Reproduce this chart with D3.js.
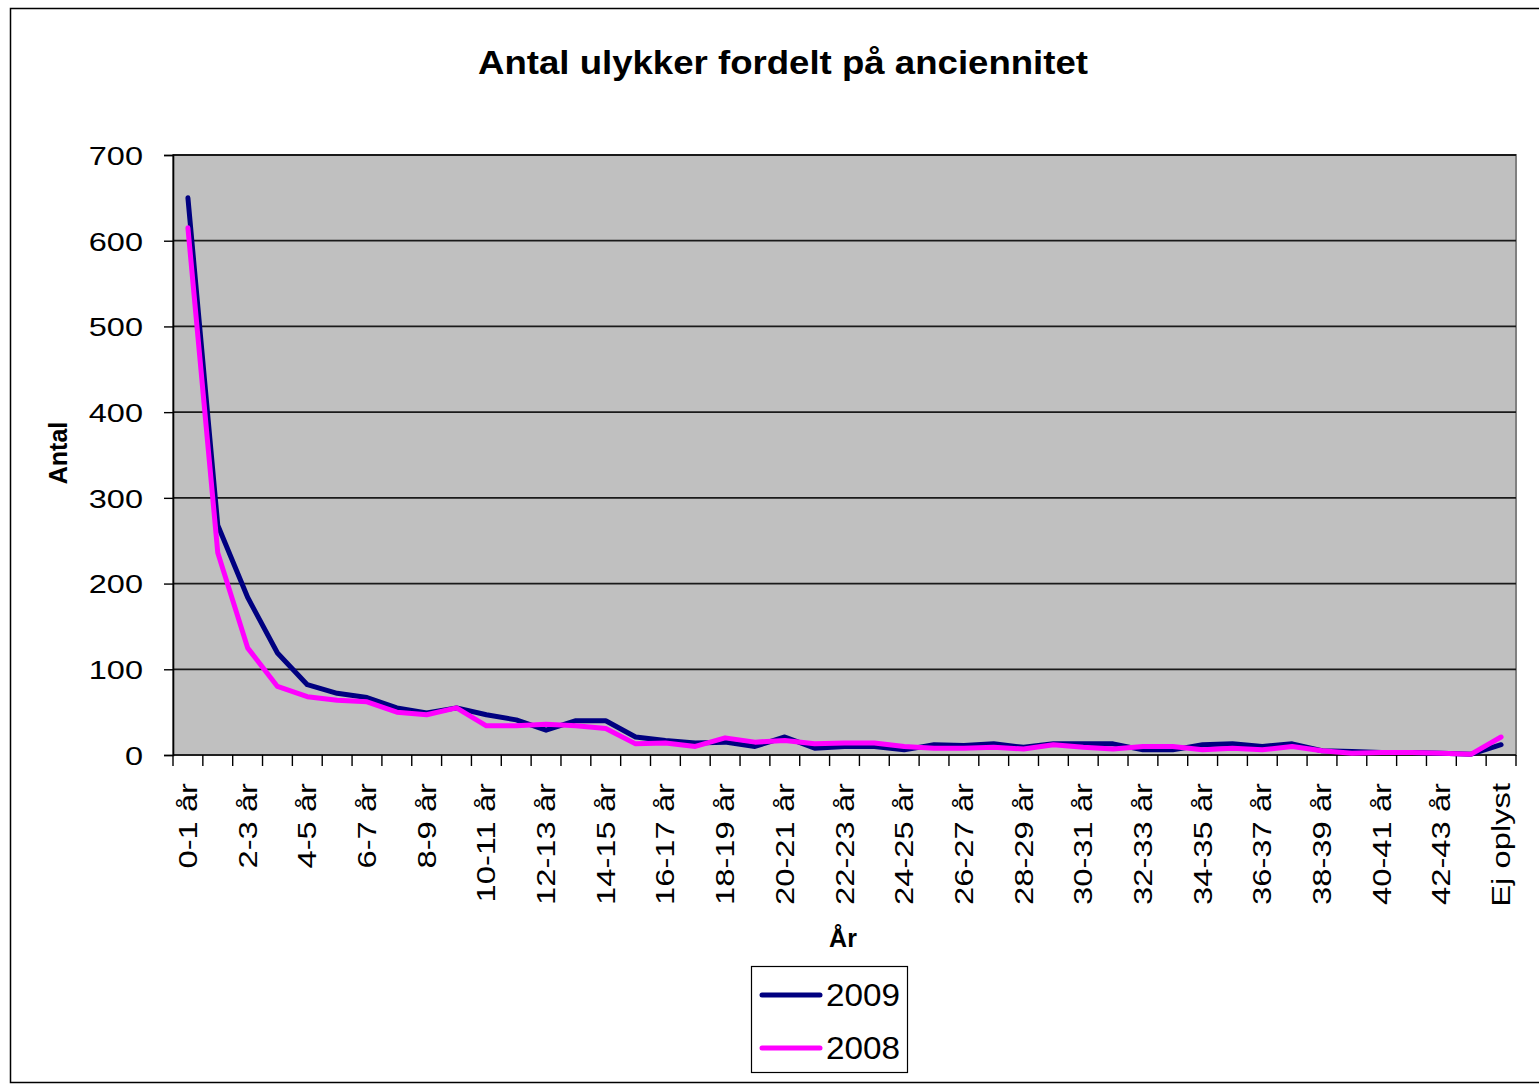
<!DOCTYPE html>
<html>
<head>
<meta charset="utf-8">
<script src="https://cdn.jsdelivr.net/npm/d3@7"></script>
<style>
  body { margin: 0; background: #fff; }
  text { font-family: "Liberation Sans", Arial, sans-serif; }
</style>
</head>
<body>
<script>
var width = 1539;
var height = 1085;

var categories = ["0-1 år", "1-2 år", "2-3 år", "3-4 år", "4-5 år", "5-6 år", "6-7 år", "7-8 år",
  "8-9 år", "9-10 år", "10-11 år", "11-12 år", "12-13 år", "13-14 år", "14-15 år", "15-16 år",
  "16-17 år", "17-18 år", "18-19 år", "19-20 år", "20-21 år", "21-22 år", "22-23 år", "23-24 år",
  "24-25 år", "25-26 år", "26-27 år", "27-28 år", "28-29 år", "29-30 år", "30-31 år", "31-32 år",
  "32-33 år", "33-34 år", "34-35 år", "35-36 år", "36-37 år", "37-38 år", "38-39 år", "39-40 år",
  "40-41 år", "41-42 år", "42-43 år", "43-44 år", "Ej oplyst"];

var values2009 = [650, 268, 184, 119, 82, 72, 67, 55, 49, 55, 47, 41, 29, 40, 40, 21, 17, 14, 15, 10,
  21, 8, 10, 10, 6, 12, 11, 13, 9, 13, 13, 13, 6, 6, 12, 13, 10, 13, 5, 4, 3, 3, 2, 1, 12];
var values2008 = [615, 236, 125, 80, 68, 64, 62, 50, 47, 55, 34, 34, 36, 34, 31, 13, 14, 10, 20, 15,
  17, 13, 14, 14, 10, 8, 8, 9, 7, 12, 9, 7, 10, 10, 6, 8, 6, 10, 5, 2, 3, 3, 2, 1, 21];

var yTicks = [0, 100, 200, 300, 400, 500, 600, 700];

var series = [
  { name: "2009", values: values2009, color: "#000080" },
  { name: "2008", values: values2008, color: "#ff00ff" }
];

var plot = { left: 173, right: 1516, top: 155, bottom: 755 };

var svg = d3.select("body").append("svg")
  .attr("width", width)
  .attr("height", height);

// outer chart frame
svg.append("rect")
  .attr("x", 10.5).attr("y", 8.5)
  .attr("width", 1540).attr("height", 1074)
  .style("fill", "#fff")
  .style("stroke", "#000")
  .style("stroke-width", 1.5);

var x = d3.scaleBand()
  .domain(categories)
  .range([plot.left, plot.right]);

var y = d3.scaleLinear()
  .domain([0, 700])
  .range([plot.bottom, plot.top]);

// plot background
svg.append("rect")
  .attr("x", plot.left).attr("y", plot.top)
  .attr("width", plot.right - plot.left)
  .attr("height", plot.bottom - plot.top)
  .style("fill", "#c0c0c0")
  .style("stroke", "#808080")
  .style("stroke-width", 2);

// gridlines
svg.append("g")
  .selectAll("line")
  .data(yTicks.slice(1))
  .enter().append("line")
  .attr("x1", plot.left).attr("x2", plot.right)
  .attr("y1", function(d) { return y(d); })
  .attr("y2", function(d) { return y(d); })
  .style("stroke", "#1a1a1a")
  .style("stroke-width", 1.8);

// y axis
var yAxis = svg.append("g")
  .attr("transform", "translate(" + plot.left + ",0)")
  .call(d3.axisLeft(y).tickValues(yTicks).tickSize(9).tickPadding(15).tickFormat(d3.format("d")));
yAxis.select(".domain").style("stroke", "#000").style("stroke-width", 1.6);
yAxis.selectAll(".tick line").style("stroke", "#000").style("stroke-width", 1.4);
yAxis.selectAll(".tick text")
  .style("font-size", "26px")
  .style("fill", "#000")
  .attr("dy", "0.36em")
  .attr("transform", "scale(1.25,1)");

// x axis with ticks between categories
var xAxis = svg.append("g")
  .attr("transform", "translate(0," + plot.bottom + ")");
xAxis.append("line")
  .attr("x1", plot.left).attr("x2", plot.right)
  .style("stroke", "#000").style("stroke-width", 1.6);
xAxis.selectAll("line.tk")
  .data(categories.concat([null]))
  .enter().append("line")
  .attr("class", "tk")
  .attr("x1", function(d) { return d === null ? plot.right : x(d); })
  .attr("x2", function(d) { return d === null ? plot.right : x(d); })
  .attr("y1", 0).attr("y2", 11)
  .style("stroke", "#000").style("stroke-width", 1.4);

xAxis.selectAll("text")
  .data(categories.filter(function(d, i) { return i % 2 === 0; }))
  .enter().append("text")
  .attr("transform", function(d) {
    return "translate(" + (x(d) + x.bandwidth() / 2) + ",28) rotate(-90) scale(1.31,1)";
  })
  .attr("dy", "0.36em")
  .style("text-anchor", "end")
  .style("font-size", "25px")
  .style("fill", "#000")
  .text(function(d) { return d; });

// lines
var line = d3.line()
  .x(function(d, i) { return x(categories[i]) + x.bandwidth() / 2; })
  .y(function(d) { return y(d); });

svg.append("g")
  .selectAll("path")
  .data(series)
  .enter().append("path")
  .attr("d", function(d) { return line(d.values); })
  .style("fill", "none")
  .style("stroke", function(d) { return d.color; })
  .style("stroke-width", 5)
  .style("stroke-linejoin", "round")
  .style("stroke-linecap", "round");

// title
svg.append("text")
  .attr("x", 783).attr("y", 74)
  .style("text-anchor", "middle")
  .style("font-size", "33px")
  .style("font-weight", "bold")
  .attr("textLength", 610)
  .attr("lengthAdjust", "spacingAndGlyphs")
  .text("Antal ulykker fordelt på anciennitet");

svg.append("text")
  .attr("transform", "translate(67,453) rotate(-90)")
  .style("text-anchor", "middle")
  .style("font-size", "25px")
  .style("font-weight", "bold")
  .text("Antal");

svg.append("text")
  .attr("x", 843).attr("y", 947)
  .style("text-anchor", "middle")
  .style("font-size", "25px")
  .style("font-weight", "bold")
  .text("År");

// legend
var legend = svg.append("g");
legend.append("rect")
  .attr("x", 751.5).attr("y", 966.5)
  .attr("width", 156).attr("height", 106)
  .style("fill", "#fff")
  .style("stroke", "#000")
  .style("stroke-width", 1.2);

var items = legend.selectAll("g")
  .data(series)
  .enter().append("g")
  .attr("transform", function(d, i) { return "translate(760," + (995 + i * 53) + ")"; });
items.append("line")
  .attr("x1", 2).attr("x2", 60)
  .style("stroke", function(d) { return d.color; })
  .style("stroke-width", 5)
  .style("stroke-linecap", "round");
items.append("text")
  .attr("x", 66)
  .attr("dy", "0.36em")
  .attr("textLength", 74)
  .attr("lengthAdjust", "spacingAndGlyphs")
  .style("font-size", "31px")
  .style("fill", "#000")
  .text(function(d) { return d.name; });
</script>
</body>
</html>
